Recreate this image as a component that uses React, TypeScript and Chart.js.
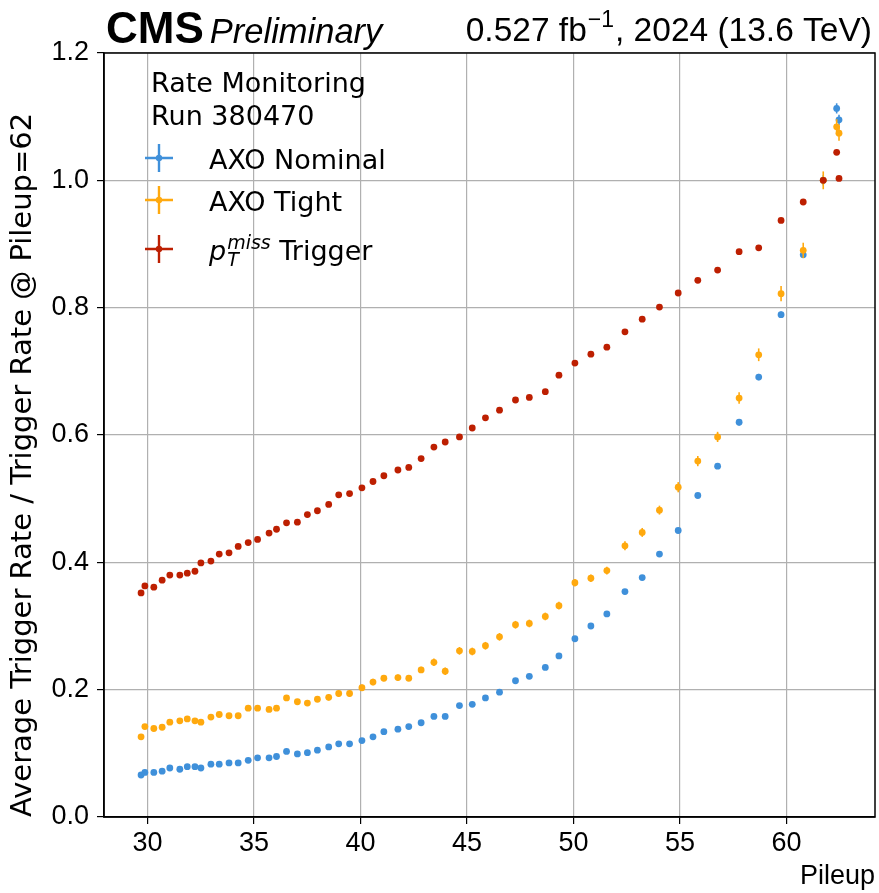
import React, { useEffect, useRef } from "react";
import { Chart, registerables } from "chart.js";

Chart.register(...registerables);

// ---------- data ----------
const pileup = [
  29.70, 29.88, 30.30, 30.69, 31.05, 31.52, 31.87, 32.23, 32.51, 32.98,
  33.37, 33.83, 34.26, 34.73, 35.17, 35.71, 36.06, 36.53, 37.04, 37.51,
  37.98, 38.51, 38.98, 39.49, 40.07, 40.59, 41.10, 41.76, 42.27, 42.85,
  43.45, 43.98, 44.65, 45.25, 45.87, 46.53, 47.28, 47.93, 48.68, 49.32,
  50.07, 50.82, 51.57, 52.42, 53.23, 54.04, 54.92, 55.84, 56.77, 57.78,
  58.70, 59.75, 60.79, 61.73, 62.36, 62.47,
];

const axoNominal = [
  0.066, 0.070, 0.070, 0.072, 0.077, 0.075, 0.079, 0.079, 0.077, 0.083,
  0.083, 0.085, 0.085, 0.089, 0.093, 0.093, 0.095, 0.103, 0.099, 0.101,
  0.105, 0.110, 0.115, 0.115, 0.120, 0.126, 0.134, 0.138, 0.142, 0.148,
  0.158, 0.158, 0.175, 0.177, 0.187, 0.196, 0.214, 0.221, 0.235, 0.253,
  0.280, 0.300, 0.319, 0.354, 0.376, 0.413, 0.450, 0.505, 0.551, 0.620,
  0.691, 0.789, 0.883, 1.000, 1.113, 1.095,
];
const axoNominalErr = [
  0.002, 0.002, 0.002, 0.002, 0.002, 0.002, 0.002, 0.002, 0.002, 0.002,
  0.002, 0.002, 0.002, 0.002, 0.002, 0.002, 0.002, 0.002, 0.002, 0.002,
  0.002, 0.002, 0.002, 0.002, 0.002, 0.002, 0.002, 0.002, 0.002, 0.002,
  0.003, 0.003, 0.003, 0.003, 0.003, 0.003, 0.003, 0.003, 0.003, 0.003,
  0.003, 0.003, 0.003, 0.004, 0.004, 0.004, 0.004, 0.004, 0.004, 0.005,
  0.005, 0.005, 0.005, 0.008, 0.008, 0.008,
];

const axoTight = [
  0.126, 0.142, 0.139, 0.141, 0.149, 0.151, 0.154, 0.151, 0.149, 0.157,
  0.161, 0.159, 0.159, 0.171, 0.171, 0.169, 0.171, 0.187, 0.181, 0.179,
  0.185, 0.188, 0.194, 0.194, 0.203, 0.212, 0.218, 0.219, 0.218, 0.231,
  0.243, 0.229, 0.261, 0.260, 0.269, 0.283, 0.302, 0.304, 0.315, 0.332,
  0.368, 0.375, 0.387, 0.426, 0.447, 0.482, 0.518, 0.559, 0.597, 0.658,
  0.726, 0.822, 0.890, 1.000, 1.084, 1.074,
];
const axoTightErr = [
  0.004, 0.004, 0.004, 0.004, 0.004, 0.004, 0.004, 0.004, 0.004, 0.004,
  0.004, 0.004, 0.004, 0.004, 0.004, 0.004, 0.004, 0.004, 0.004, 0.004,
  0.005, 0.005, 0.005, 0.005, 0.005, 0.005, 0.005, 0.005, 0.005, 0.005,
  0.006, 0.006, 0.006, 0.006, 0.006, 0.006, 0.006, 0.006, 0.006, 0.006,
  0.006, 0.006, 0.006, 0.007, 0.007, 0.007, 0.008, 0.008, 0.008, 0.009,
  0.010, 0.012, 0.012, 0.014, 0.012, 0.012,
];

const ptMissTrigger = [
  0.352, 0.363, 0.361, 0.372, 0.380, 0.380, 0.383, 0.386, 0.399, 0.402,
  0.413, 0.415, 0.425, 0.431, 0.436, 0.446, 0.452, 0.462, 0.463, 0.475,
  0.481, 0.491, 0.506, 0.508, 0.517, 0.527, 0.536, 0.545, 0.549, 0.563,
  0.581, 0.589, 0.597, 0.611, 0.627, 0.639, 0.655, 0.659, 0.668, 0.694,
  0.713, 0.727, 0.738, 0.762, 0.782, 0.801, 0.823, 0.843, 0.859, 0.888,
  0.894, 0.937, 0.966, 1.000, 1.044, 1.003,
];
const ptMissTriggerErr = [
  0.002, 0.002, 0.002, 0.002, 0.002, 0.002, 0.002, 0.002, 0.002, 0.002,
  0.002, 0.002, 0.002, 0.002, 0.002, 0.002, 0.002, 0.002, 0.002, 0.002,
  0.002, 0.002, 0.002, 0.002, 0.002, 0.002, 0.002, 0.002, 0.002, 0.002,
  0.002, 0.002, 0.002, 0.002, 0.002, 0.002, 0.002, 0.002, 0.002, 0.002,
  0.002, 0.002, 0.002, 0.002, 0.002, 0.002, 0.002, 0.002, 0.002, 0.003,
  0.003, 0.003, 0.003, 0.004, 0.004, 0.004,
];

const xTickValues = [30, 35, 40, 45, 50, 55, 60];
const yTickValues = [0, 0.2, 0.4, 0.6, 0.8, 1.0, 1.2];
const xRange = [27.96, 64.16];
const yRange = [0, 1.2];

const seriesNames = ["AXO Nominal", "AXO Tight", "p_T^miss Trigger"];
const seriesColors = ["#3f90da", "#ffa90e", "#bd1f01"];
const legendHeader = ["Rate Monitoring", "Run 380470"];
const xTitle = "Pileup";
const yTitle = "Average Trigger Rate / Trigger Rate @ Pileup=62";
const cmsText = "CMS";
const cmsExtra = "Preliminary";
const lumiMain = "0.527 fb";
const lumiSup = "\u22121";
const lumiTail = ", 2024 (13.6 TeV)";

const TICK_FONT = '"Liberation Sans Narrow", "Liberation Sans", sans-serif';
const TEXT_FONT = '"DejaVu Sans", sans-serif';
const HEAD_FONT = '"Liberation Sans", sans-serif';

function toPoints(ys: number[]) {
  return pileup.map((x, i) => ({ x, y: ys[i] }));
}

const errorBarPlugin = {
  id: "errorBars",
  beforeDatasetDraw(chart: any, args: any) {
    const ds = chart.data.datasets[args.index];
    const errs: number[] | undefined = ds.errors;
    if (!errs) return;
    const ys = chart.scales.y;
    const ctx = chart.ctx;
    const area = chart.chartArea;
    ctx.save();
    ctx.beginPath();
    ctx.rect(area.left, area.top, area.right - area.left, area.bottom - area.top);
    ctx.clip();
    ctx.strokeStyle = ds.backgroundColor;
    ctx.lineWidth = 1.6;
    args.meta.data.forEach((pt: any, i: number) => {
      const v = ds.data[i].y;
      const e = errs[i];
      ctx.beginPath();
      ctx.moveTo(pt.x, ys.getPixelForValue(v - e));
      ctx.lineTo(pt.x, ys.getPixelForValue(v + e));
      ctx.stroke();
    });
    ctx.restore();
  },
};

function drawLabel(ctx: CanvasRenderingContext2D, name: string, x: number, y: number, size: number) {
  if (name.startsWith("p_T^")) {
    const sup = name.slice(4).split(" ")[0];
    const rest = name.slice(4 + sup.length);
    ctx.font = `oblique ${size}px ${TEXT_FONT}`;
    ctx.fillText("p", x, y);
    const pw = ctx.measureText("p").width;
    const small = Math.round(size * 0.7);
    ctx.font = `oblique ${small}px ${TEXT_FONT}`;
    ctx.fillText("T", x + pw + 1, y + size * 0.22);
    ctx.fillText(sup, x + pw + 1, y - size * 0.42);
    const sw = Math.max(ctx.measureText(sup).width, ctx.measureText("T").width);
    ctx.font = `${size}px ${TEXT_FONT}`;
    ctx.fillText(rest, x + pw + 1 + sw, y);
  } else {
    ctx.font = `${size}px ${TEXT_FONT}`;
    ctx.fillText(name, x, y);
  }
}

const decorPlugin = {
  id: "decor",
  afterDraw(chart: any) {
    const ctx: CanvasRenderingContext2D = chart.ctx;
    const a = chart.chartArea;
    ctx.save();
    // frame
    ctx.strokeStyle = "#000";
    ctx.lineWidth = 1.5;
    ctx.strokeRect(a.left, a.top, a.right - a.left, a.bottom - a.top);

    // header
    ctx.fillStyle = "#000";
    ctx.textBaseline = "alphabetic";
    ctx.textAlign = "left";
    ctx.font = `bold 44px ${HEAD_FONT}`;
    ctx.fillText(cmsText, a.left + 2, 43);
    const cw = ctx.measureText(cmsText).width;
    ctx.font = `italic 34.5px ${HEAD_FONT}`;
    ctx.fillText(cmsExtra, a.left + 2 + cw + 6, 43);

    // lumi text right aligned
    const bigF = `33.5px ${HEAD_FONT}`;
    const supF = `23px ${HEAD_FONT}`;
    ctx.font = bigF;
    const w1 = ctx.measureText(lumiMain).width;
    const w3 = ctx.measureText(lumiTail).width;
    ctx.font = supF;
    const w2 = ctx.measureText(lumiSup).width;
    let x = a.right - 3 - (w1 + w2 + w3 + 2);
    ctx.font = bigF;
    ctx.fillText(lumiMain, x, 41);
    x += w1 + 1;
    ctx.font = supF;
    ctx.fillText(lumiSup, x, 27);
    x += w2 + 1;
    ctx.font = bigF;
    ctx.fillText(lumiTail, x, 41);

    // legend
    const lx = a.left + 47;
    ctx.font = `27px ${TEXT_FONT}`;
    ctx.fillText(legendHeader[0], lx, 92);
    ctx.fillText(legendHeader[1], lx, 125);
    const rows = [158, 200, 249];
    chart.data.datasets.forEach((ds: any, i: number) => {
      const cy = rows[i];
      const cx = a.left + 55;
      ctx.strokeStyle = ds.backgroundColor;
      ctx.fillStyle = ds.backgroundColor;
      ctx.lineWidth = 2.4;
      ctx.beginPath();
      ctx.moveTo(cx - 14, cy);
      ctx.lineTo(cx + 14, cy);
      ctx.moveTo(cx, cy - 14);
      ctx.lineTo(cx, cy + 14);
      ctx.stroke();
      ctx.beginPath();
      ctx.arc(cx, cy, 3.2, 0, Math.PI * 2);
      ctx.fill();
      ctx.fillStyle = "#000";
      drawLabel(ctx, ds.label, a.left + 105, cy + 11, 27);
    });
    ctx.restore();
  },
};

export default function App() {
  const ref = useRef<HTMLCanvasElement | null>(null);

  useEffect(() => {
    if (!ref.current) return;
    const series = [
      { data: axoNominal, err: axoNominalErr, order: 2 },
      { data: axoTight, err: axoTightErr, order: 1 },
      { data: ptMissTrigger, err: ptMissTriggerErr, order: 0 },
    ];
    const chart = new Chart(ref.current, {
      type: "scatter",
      data: {
        datasets: series.map((s, i) => ({
          label: seriesNames[i],
          data: toPoints(s.data),
          errors: s.err,
          order: s.order,
          backgroundColor: seriesColors[i],
          borderColor: seriesColors[i],
          borderWidth: 0,
          pointRadius: 3.4,
          pointHoverRadius: 3.4,
          showLine: false,
        })) as any,
      },
      options: {
        responsive: false,
        animation: false,
        events: [],
        layout: { padding: { left: 0, top: 53, right: 4, bottom: 0 } },
        plugins: {
          legend: { display: false },
          tooltip: { enabled: false },
          title: { display: false },
        },
        scales: {
          x: {
            type: "linear",
            min: xRange[0],
            max: xRange[1],
            afterFit: (s: any) => {
              s.height = 76;
            },
            afterBuildTicks: (s: any) => {
              s.ticks = xTickValues.map((v) => ({ value: v }));
            },
            ticks: {
              color: "#000",
              font: { family: TICK_FONT, size: 27 },
              padding: 3,
              maxRotation: 0,
              callback: (v: any) => String(v),
            },
            grid: {
              color: "#b0b0b0",
              lineWidth: 1.2,
              tickColor: "#000",
              tickLength: 7,
            },
            border: { color: "#000", width: 1.5 },
            title: {
              display: true,
              text: xTitle,
              align: "end",
              color: "#000",
              font: { family: TICK_FONT, size: 27 },
              padding: { top: 0, bottom: 0 },
            },
          },
          y: {
            type: "linear",
            min: yRange[0],
            max: yRange[1],
            afterFit: (s: any) => {
              s.width = 104;
            },
            afterBuildTicks: (s: any) => {
              s.ticks = yTickValues.map((v) => ({ value: v }));
            },
            ticks: {
              color: "#000",
              font: { family: TICK_FONT, size: 27 },
              padding: 8,
              callback: (v: any) => Number(v).toFixed(1),
            },
            grid: {
              color: "#b0b0b0",
              lineWidth: 1.2,
              tickColor: "#000",
              tickLength: 7,
            },
            border: { color: "#000", width: 1.5 },
            title: {
              display: true,
              text: yTitle,
              align: "start",
              color: "#000",
              font: { family: TEXT_FONT, size: 29 },
              padding: { top: 6, bottom: 0 },
            },
          },
        },
      } as any,
      plugins: [errorBarPlugin, decorPlugin],
    });
    return () => chart.destroy();
  }, []);

  return (
    <div style={{ position: "absolute", left: 0, top: 0, width: 879, height: 893, background: "#fff" }}>
      <canvas ref={ref} width={879} height={893} />
    </div>
  );
}
